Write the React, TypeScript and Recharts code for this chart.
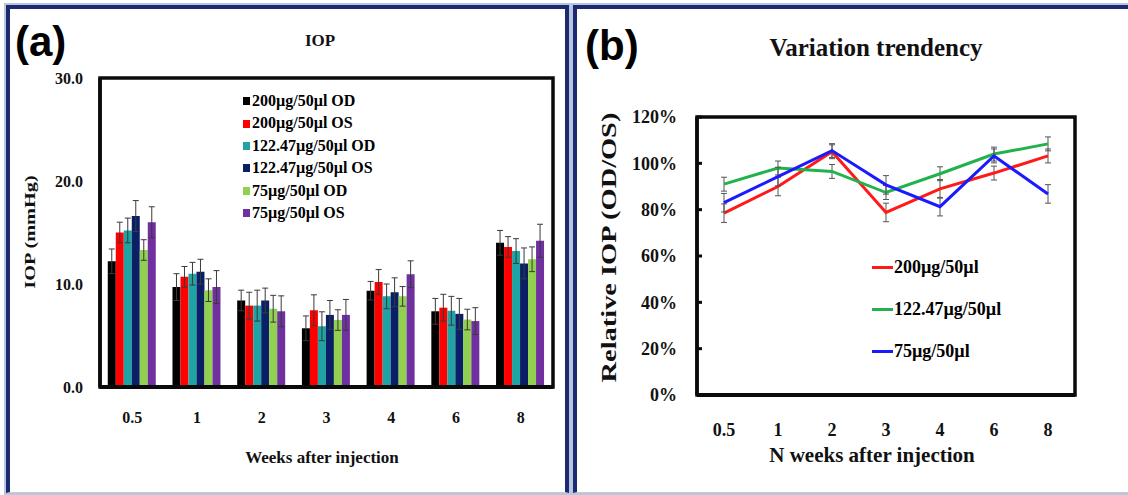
import React from 'react';
import {
  BarChart, Bar, ErrorBar, XAxis, YAxis, LineChart, Line, ReferenceArea, ReferenceLine,
} from 'recharts';

const weeks = ['0.5', '1', '2', '3', '4', '6', '8'];

const od200 = [12.2, 9.7, 8.4, 5.7, 9.35, 7.35, 14.0];
const os200 = [15.0, 10.7, 7.9, 7.45, 10.2, 7.7, 13.6];
const od122 = [15.2, 11.0, 7.9, 5.9, 8.8, 7.4, 13.2];
const os122 = [16.6, 11.2, 8.4, 7.0, 9.2, 7.1, 12.0];
const od75 = [13.3, 9.4, 7.6, 6.5, 8.8, 6.55, 12.4];
const os75 = [16.0, 9.7, 7.35, 7.0, 10.95, 6.4, 14.2];

const od200Err = [1.2, 1.3, 1.0, 1.2, 0.9, 1.25, 1.2];
const os200Err = [1.0, 1.0, 1.3, 1.5, 1.2, 1.3, 1.0];
const od122Err = [1.2, 1.1, 1.5, 1.4, 1.2, 1.4, 1.2];
const os122Err = [1.5, 1.2, 1.2, 1.4, 1.4, 1.5, 1.5];
const od75Err = [1.0, 1.1, 1.3, 1.0, 0.95, 1.0, 1.2];
const os75Err = [1.5, 1.6, 1.5, 1.5, 1.3, 1.3, 1.6];

const rel200 = [0.785, 0.9, 1.05, 0.788, 0.89, 0.958, 1.032];
const rel122 = [0.91, 0.98, 0.965, 0.874, 0.955, 1.04, 1.084];
const rel75 = [0.83, 0.943, 1.055, 0.907, 0.813, 1.032, 0.868];
const rel200Err = [0.04, 0.04, 0.03, 0.04, 0.04, 0.03, 0.03];
const rel122Err = [0.03, 0.03, 0.03, 0.03, 0.03, 0.03, 0.03];
const rel75Err = [0.04, 0.04, 0.03, 0.04, 0.04, 0.03, 0.04];

const iopTicks = [0, 10, 20, 30];
const relTicks = [0, 0.2, 0.4, 0.6, 0.8, 1.0, 1.2];
const weekIndexTicks = weeks.map((_, i) => i);

const barSeries = [
  { key: 'od200', err: 'od200Err', name: '200µg/50µl OD', color: '#000000' },
  { key: 'os200', err: 'os200Err', name: '200µg/50µl OS', color: '#ff0000' },
  { key: 'od122', err: 'od122Err', name: '122.47µg/50µl OD', color: '#1fa3a3' },
  { key: 'os122', err: 'os122Err', name: '122.47µg/50µl OS', color: '#0b1f66' },
  { key: 'od75', err: 'od75Err', name: '75µg/50µl OD', color: '#92d050' },
  { key: 'os75', err: 'os75Err', name: '75µg/50µl OS', color: '#7030a0' },
];

const lineSeries = [
  { key: 'rel200', err: 'rel200Err', name: '200µg/50µl', color: '#ff1a1a' },
  { key: 'rel122', err: 'rel122Err', name: '122.47µg/50µl', color: '#22b24c' },
  { key: 'rel75', err: 'rel75Err', name: '75µg/50µl', color: '#1a1aff' },
];

const barData = weeks.map((w, i) => ({
  week: w,
  od200: od200[i], os200: os200[i], od122: od122[i], os122: os122[i], od75: od75[i], os75: os75[i],
  od200Err: od200Err[i], os200Err: os200Err[i], od122Err: od122Err[i], os122Err: os122Err[i],
  od75Err: od75Err[i], os75Err: os75Err[i],
}));

const lineData = weeks.map((w, i) => ({
  idx: i,
  week: w,
  rel200: rel200[i], rel122: rel122[i], rel75: rel75[i],
  rel200Err: rel200Err[i], rel122Err: rel122Err[i], rel75Err: rel75Err[i],
}));

const SERIF = '"Liberation Serif", "Times New Roman", serif';
const SANS = '"Liberation Sans", Arial, sans-serif';
const NAVY = '#1c2a72';
const INK = '#0a0a0a';

const abs = (s: React.CSSProperties): React.CSSProperties => ({ position: 'absolute', ...s });

export default function App() {
  return (
    <div style={abs({ left: 0, top: 0, width: 1128, height: 495, background: '#fff', overflow: 'hidden' })}>
      {/* panel frames */}
      <div style={abs({
        left: 6, top: 5, width: 563, height: 488, boxSizing: 'border-box',
        borderLeft: `4px solid ${NAVY}`, borderTop: `4px solid ${NAVY}`, borderRight: `4px solid ${NAVY}`,
        borderBottom: '1px solid #c9c9c9', boxShadow: '0 0 0 2px #b9c6e0',
      })} />
      <div style={abs({
        left: 573, top: 5, width: 560, height: 488, boxSizing: 'border-box',
        borderLeft: `4px solid ${NAVY}`, borderTop: `4px solid ${NAVY}`,
        borderBottom: '1px solid #c9c9c9', boxShadow: '0 0 0 2px #b9c6e0',
      })} />

      {/* Panel (a) */}
      <div style={abs({ left: 0, top: 0 })}>
        <BarChart
          width={565}
          height={495}
          data={barData}
          margin={{ top: 78, right: 12, bottom: 78, left: 40 }}
          barCategoryGap="12%"
          barGap={0}
        >
          <XAxis
            dataKey="week"
            height={30}
            tickSize={0}
            tickMargin={25}
            tickLine={false}
            axisLine={{ stroke: INK, strokeWidth: 4 }}
            tick={{ fontFamily: SERIF, fontWeight: 'bold', fontSize: 16, fill: '#111' }}
          />
          <YAxis
            width={60}
            domain={[0, 30]}
            ticks={iopTicks}
            interval={0}
            tickSize={0}
            tickMargin={17}
            tickLine={false}
            axisLine={{ stroke: INK, strokeWidth: 3.5 }}
            tickFormatter={(v: number) => v.toFixed(1)}
            tick={{ fontFamily: SERIF, fontWeight: 'bold', fontSize: 16, fill: '#111' }}
          />
          <ReferenceArea y1={0} y2={30} fill="none" fillOpacity={0} stroke={INK} strokeWidth={3.5} strokeOpacity={1} />
          {barSeries.map((s) => (
            <Bar key={s.key} dataKey={s.key} name={s.name} fill={s.color} isAnimationActive={false}>
              <ErrorBar dataKey={s.err} width={3} stroke="#3a3a3a" strokeWidth={1} direction="y" />
            </Bar>
          ))}
          <ReferenceLine y={0} stroke={INK} strokeWidth={4} ifOverflow="visible" />
        </BarChart>
      </div>

      {/* legend (a) */}
      <div style={abs({ left: 243, top: 90, fontFamily: SERIF, fontWeight: 'bold', fontSize: 16, color: '#000' })}>
        {barSeries.map((s) => (
          <div key={s.key} style={{ height: 22.4, lineHeight: '22.4px', display: 'flex', alignItems: 'center', whiteSpace: 'nowrap' }}>
            <span style={{ display: 'inline-block', width: 7, height: 8, background: s.color, marginRight: 2 }} />
            <span>{s.name}</span>
          </div>
        ))}
      </div>

      <div style={abs({ left: 15, top: 14, fontFamily: SANS, fontWeight: 'bold', fontSize: 42, lineHeight: '56px', color: '#000' })}>(a)</div>
      <div style={abs({ left: 270, width: 100, top: 31, textAlign: 'center', fontFamily: SERIF, fontWeight: 'bold', fontSize: 17, color: '#111' })}>IOP</div>
      <div style={abs({ left: 222, width: 200, top: 448, textAlign: 'center', fontFamily: SERIF, fontWeight: 'bold', fontSize: 17, color: '#111' })}>Weeks after injection</div>
      <div style={abs({ left: 31, top: 233, width: 0, height: 0 })}>
        <div style={abs({
          left: -60, top: -9, width: 120, textAlign: 'center', fontFamily: SERIF, fontWeight: 'bold', fontSize: 14, color: '#111',
          transform: 'rotate(-90deg) scaleX(1.45)', whiteSpace: 'nowrap',
        })}>IOP (mmHg)</div>
      </div>

      {/* Panel (b) */}
      <div style={abs({ left: 575, top: 0 })}>
        <LineChart
          width={553}
          height={495}
          data={lineData}
          margin={{ top: 117, right: 53, bottom: 70, left: 52 }}
        >
          <XAxis
            dataKey="idx"
            type="number"
            domain={[-0.5, weeks.length - 0.5]}
            ticks={weekIndexTicks}
            interval={0}
            tickFormatter={(i: number) => weeks[i]}
            height={30}
            tickSize={0}
            tickMargin={28}
            tickLine={false}
            axisLine={{ stroke: INK, strokeWidth: 4 }}
            tick={{ fontFamily: SERIF, fontWeight: 'bold', fontSize: 18, fill: '#111' }}
          />
          <YAxis
            width={70}
            domain={[0, 1.2]}
            ticks={relTicks}
            interval={0}
            tickSize={-5}
            tickMargin={25}
            tickLine={{ stroke: INK, strokeWidth: 3 }}
            axisLine={{ stroke: INK, strokeWidth: 3.5 }}
            tickFormatter={(v: number) => `${Math.round(v * 100)}%`}
            tick={{ fontFamily: SERIF, fontWeight: 'bold', fontSize: 18, fill: '#111' }}
          />
          <ReferenceArea x1={-0.5} x2={weeks.length - 0.5} y1={0} y2={1.2} fill="none" fillOpacity={0} stroke={INK} strokeWidth={3.5} strokeOpacity={1} />
          {lineSeries.map((s) => (
            <Line key={s.key} dataKey={s.key} name={s.name} stroke={s.color} strokeWidth={3} dot={false} isAnimationActive={false}>
              <ErrorBar dataKey={s.err} width={3} stroke="#555" strokeWidth={1} direction="y" />
            </Line>
          ))}
          <ReferenceLine y={0} stroke={INK} strokeWidth={4} ifOverflow="visible" />
        </LineChart>
      </div>

      {/* legend (b) */}
      <div style={abs({ left: 872, top: 246, fontFamily: SERIF, fontWeight: 'bold', fontSize: 18, color: '#000' })}>
        {lineSeries.map((s) => (
          <div key={s.key} style={{ height: 42, lineHeight: '42px', display: 'flex', alignItems: 'center', whiteSpace: 'nowrap' }}>
            <span style={{ display: 'inline-block', width: 21, height: 3, background: s.color, marginRight: 1 }} />
            <span>{s.name}</span>
          </div>
        ))}
      </div>

      <div style={abs({ left: 585, top: 18, fontFamily: SANS, fontWeight: 'bold', fontSize: 42, lineHeight: '56px', color: '#000' })}>(b)</div>
      <div style={abs({ left: 726, width: 300, top: 34, textAlign: 'center', fontFamily: SERIF, fontWeight: 'bold', fontSize: 25, color: '#111' })}>Variation trendency</div>
      <div style={abs({ left: 722, width: 300, top: 443, textAlign: 'center', fontFamily: SERIF, fontWeight: 'bold', fontSize: 21, color: '#111' })}>N weeks after injection</div>
      <div style={abs({ left: 609, top: 248, width: 0, height: 0 })}>
        <div style={abs({
          left: -110, top: -12, width: 220, textAlign: 'center', fontFamily: SERIF, fontWeight: 'bold', fontSize: 20, color: '#111',
          transform: 'rotate(-90deg) scaleX(1.42)', whiteSpace: 'nowrap',
        })}>Relative IOP (OD/OS)</div>
      </div>
    </div>
  );
}
